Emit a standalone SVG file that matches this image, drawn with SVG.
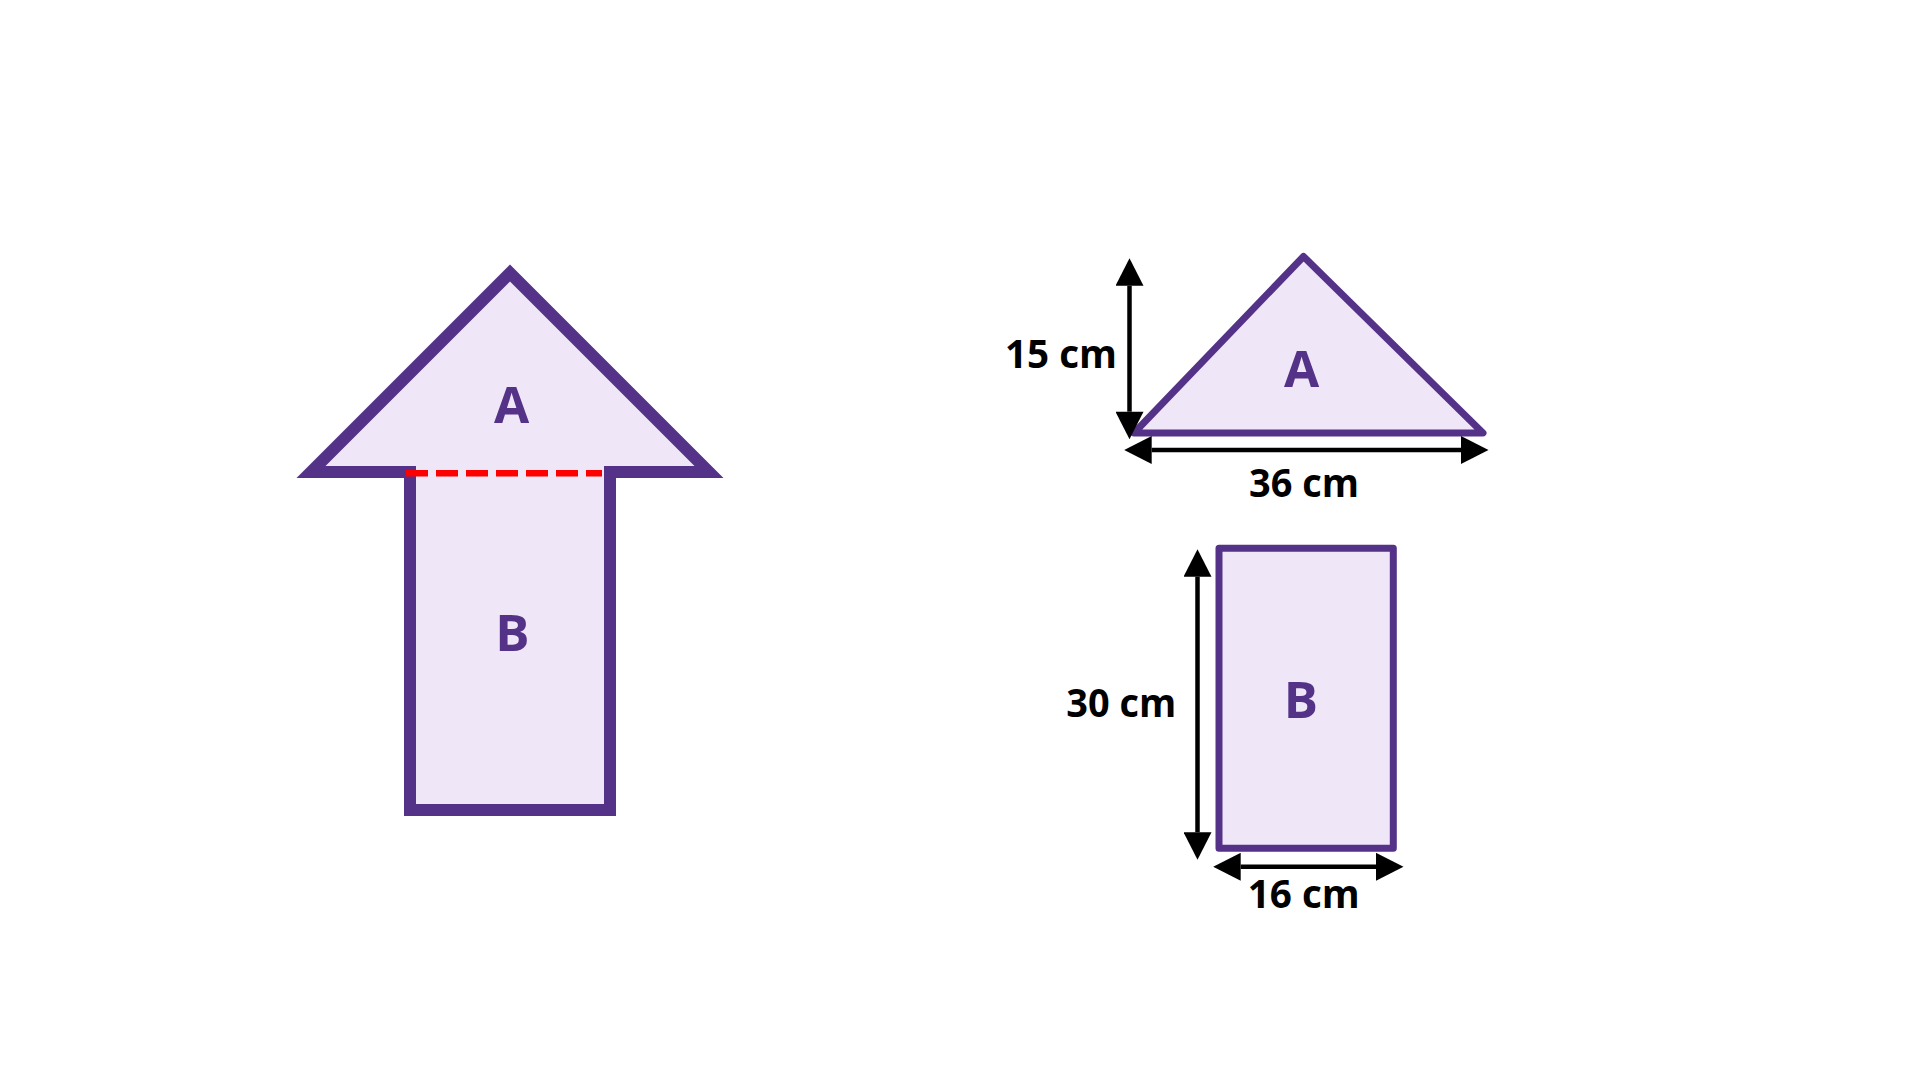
<svg xmlns="http://www.w3.org/2000/svg" width="1920" height="1080" viewBox="0 0 1920 1080">
  <style>
    .shape { fill: #efe6f7; stroke: #543288; }
    .lbl { font-family: "Open Sans", "Liberation Sans", sans-serif; font-weight: 700; fill: #543288; font-size: 51px; text-anchor: middle; }
    .dim { font-family: "Open Sans", "Liberation Sans", sans-serif; font-weight: 700; fill: #000000; font-size: 40px; }
    .dimline { stroke: #000000; stroke-width: 4.5; fill: none; }
  </style>
  <defs>
    <marker id="ah" markerUnits="userSpaceOnUse" markerWidth="28" markerHeight="28" viewBox="0 0 27.5 28" refX="0" refY="14" orient="auto-start-reverse">
      <path d="M0,0 L27.5,14 L0,28 Z" fill="#000000"/>
    </marker>
  </defs>
  <rect x="0" y="0" width="1920" height="1080" fill="#ffffff"/>

  <g id="arrow-shape">
    <polygon class="shape" stroke-width="12" stroke-linejoin="miter" points="510,273 709,472 610,472 610,810 410,810 410,472 311,472"/>
    <line x1="406" y1="473.3" x2="602" y2="473.3" stroke="#ff0000" stroke-width="6.5" stroke-dasharray="22 8"/>
    <text class="lbl" x="511.5" y="423.3">A</text>
    <text class="lbl" x="512.5" y="651">B</text>
  </g>

  <g id="triangle-A">
    <polygon class="shape" stroke-width="7" stroke-linejoin="round" points="1134,433 1303.5,256.5 1483,433"/>
    <text class="lbl" x="1301.7" y="386.7">A</text>
  </g>

  <g id="rect-B">
    <rect class="shape" stroke-width="7" stroke-linejoin="round" x="1219" y="548.3" width="174.3" height="300"/>
    <text class="lbl" x="1301" y="718.3">B</text>
  </g>

  <g id="connectors">
    <line class="dimline" x1="1129.5" y1="285.7" x2="1129.5" y2="411.7" marker-start="url(#ah)" marker-end="url(#ah)"/>
    <line class="dimline" x1="1151.7" y1="450" x2="1461" y2="450" marker-start="url(#ah)" marker-end="url(#ah)"/>
    <line class="dimline" x1="1197.5" y1="576.7" x2="1197.5" y2="832.3" marker-start="url(#ah)" marker-end="url(#ah)"/>
    <line class="dimline" x1="1240.7" y1="866.8" x2="1376" y2="866.8" marker-start="url(#ah)" marker-end="url(#ah)"/>
  </g>

  <g id="dim-labels">
    <text class="dim" x="1005" y="368.3" textLength="112" lengthAdjust="spacingAndGlyphs">15 cm</text>
    <text class="dim" x="1249" y="496.7" textLength="110" lengthAdjust="spacingAndGlyphs">36 cm</text>
    <text class="dim" x="1066.3" y="717.3" textLength="110" lengthAdjust="spacingAndGlyphs">30 cm</text>
    <text class="dim" x="1247.7" y="908.3" textLength="112" lengthAdjust="spacingAndGlyphs">16 cm</text>
  </g>
</svg>
